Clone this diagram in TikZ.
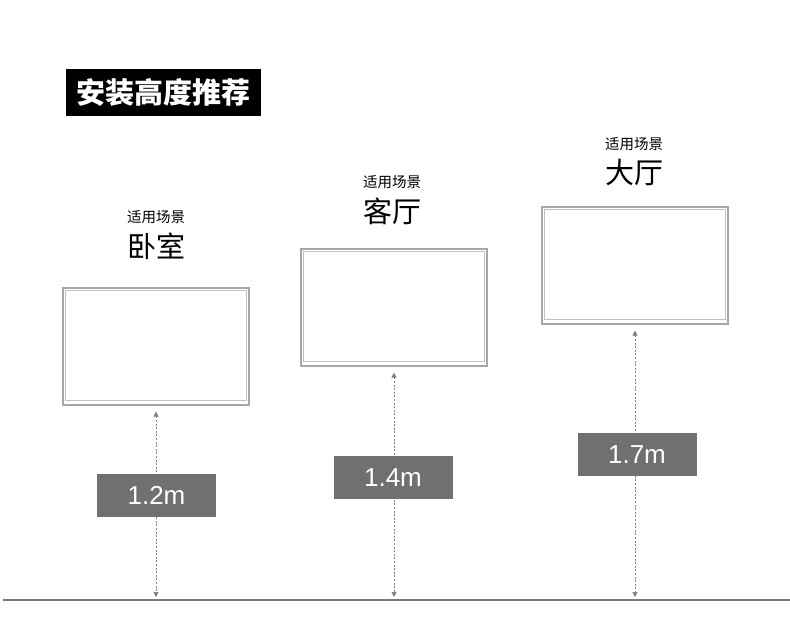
\documentclass[tikz,border=0pt]{standalone}
\usepackage{fontspec}
\setmainfont{Liberation Sans}
\newfontfamily\cjk{Noto Sans CJK SC}
\usetikzlibrary{arrows.meta,positioning}
\definecolor{frame}{HTML}{A6A6A6}
\definecolor{bar}{HTML}{707070}
\definecolor{floorline}{HTML}{7A7A7A}
\begin{document}
\begin{tikzpicture}[
    x=1pt, y=-1pt,
    tv/.style={draw=frame, line width=1.2pt, minimum width=186pt,
               minimum height=117pt, inner sep=0pt},
    bezel/.style={draw=frame!70, line width=0.8pt},
    measure/.style={draw=gray, line width=0.7pt, dash pattern=on 2pt off 1.6pt,
                    {Triangle[length=5pt,width=5pt]}-{Triangle[length=5pt,width=5pt]}},
    height/.style={fill=bar, text=white, minimum width=119pt,
                   minimum height=43pt, inner sep=0pt, font=\fontsize{26}{26}\selectfont},
    scene/.style={font=\cjk\fontsize{14.5}{14.5}\selectfont, inner sep=0pt},
    room/.style={font=\cjk\fontsize{29}{29}\selectfont, inner sep=0pt}]
  \useasboundingbox (0,0) rectangle (790,640);
  % title
  \node[fill=black, text=white, minimum width=195pt, minimum height=47pt,
        font=\cjk\bfseries\fontsize{29}{29}\selectfont] (title) at (163.5,92.5) {安装高度推荐};
  % floor
  \coordinate (floorL) at (3,600);
  \coordinate (floorR) at (790,600);
  \draw[floorline, line width=1.2pt] (floorL) -- (floorR);
  % televisions
  \node[tv] (tv1) at (156,346.5) {};
  \node[tv] (tv2) at (394,307.5) {};
  \node[tv] (tv3) at (635,265.5) {};
  \foreach \t in {tv1,tv2,tv3} {
    \draw[bezel] ([shift={(3,3)}]\t.north west) rectangle ([shift={(-3,-5)}]\t.south east);
    \draw[measure] ([yshift=-6pt]\t.south) -- ([yshift=3pt]\t.south |- floorL);
  }
  % labels
  \node[room] (room1) at (156,246) {卧室};
  \node[scene, above=8pt of room1] (scene1) {适用场景};
  \node[room] (room2) at (392,211) {客厅};
  \node[scene, above=8pt of room2] (scene2) {适用场景};
  \node[room] (room3) at (634,172) {大厅};
  \node[scene, above=8pt of room3] (scene3) {适用场景};
  % heights
  \node[height] (h1) at (156.5,495.5) {1.2m};
  \node[height] (h2) at (393,477.5) {1.4m};
  \node[height] (h3) at (637,454.5) {1.7m};
\end{tikzpicture}
\end{document}
